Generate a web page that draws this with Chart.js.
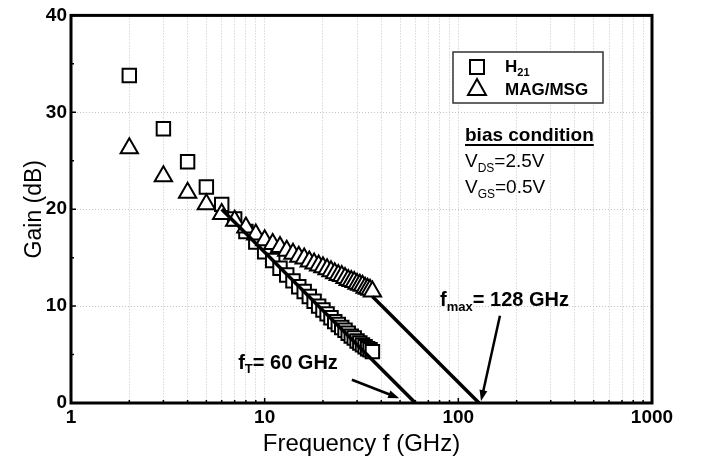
<!DOCTYPE html>
<html>
<head>
<meta charset="utf-8">
<script src="https://cdn.jsdelivr.net/npm/chart.js@4/dist/chart.umd.min.js"></script>
<style>
  html, body { margin: 0; padding: 0; background: #fff; }
</style>
</head>
<body>
<canvas id="gain" width="701" height="466"></canvas>
<script>
// measured data (GHz / dB)
const freq = [2, 3, 4, 5, 6, 7, 8, 9, 10, 11, 12, 13, 14, 15, 16, 17, 18, 19, 20,
  21, 22, 23, 24, 25, 26, 27, 28, 29, 30, 31, 32, 33, 34, 35, 36];
const h21 = [33.8, 28.3, 24.9, 22.3, 20.5, 19.0, 17.7, 16.6, 15.6, 14.7, 13.9, 13.2, 12.6, 12.0,
  11.5, 11.0, 10.5, 10.0, 9.6, 9.2, 8.8, 8.4, 8.1, 7.8, 7.5, 7.2, 6.9, 6.7, 6.4, 6.2,
  6.0, 5.8, 5.6, 5.5, 5.3];
const magMsg = [26.3, 23.4, 21.7, 20.5, 19.5, 18.8, 18.1, 17.4, 16.8, 16.4, 16.1, 15.7, 15.4, 15.1,
  14.9, 14.6, 14.4, 14.2, 14.0, 13.8, 13.6, 13.4, 13.2, 13.1, 12.9, 12.7, 12.6, 12.5, 12.3,
  12.2, 12.1, 11.9, 11.8, 11.7, 11.5];

// -20 dB/dec extrapolations
const ftLineF = [6, 60];
const ftLineG = [20.0, 0];
const fmaxLineF = [36, 128];
const fmaxLineG = [11.0, 0];

// axes
const xTickLabels = [1, 10, 100, 1000];
const yTicks = [0, 10, 20, 30, 40];

const FONT = '"Liberation Sans", Arial, Helvetica, sans-serif';

// log grid: 1..9 in every decade
const xGrid = [];
for (let d = 1; d < 1000; d *= 10) {
  for (let m = 1; m < 10; m++) xGrid.push(m * d);
}
xGrid.push(1000);

const pts = (xs, ys) => xs.map((x, i) => ({ x: x, y: ys[i] }));

function arrow(ctx, x1, y1, x2, y2) {
  const a = Math.atan2(y2 - y1, x2 - x1);
  const len = 11, w = 4;
  ctx.beginPath();
  ctx.moveTo(x1, y1);
  ctx.lineTo(x2 - Math.cos(a) * len * 0.8, y2 - Math.sin(a) * len * 0.8);
  ctx.lineWidth = 2.5;
  ctx.stroke();
  ctx.beginPath();
  ctx.moveTo(x2, y2);
  ctx.lineTo(x2 - Math.cos(a) * len - Math.sin(a) * w, y2 - Math.sin(a) * len + Math.cos(a) * w);
  ctx.lineTo(x2 - Math.cos(a) * len + Math.sin(a) * w, y2 - Math.sin(a) * len - Math.cos(a) * w);
  ctx.closePath();
  ctx.fill();
}

// text with a subscript part: main, sub, rest
function subText(ctx, x, y, main, sub, rest, big, small, dy) {
  ctx.textBaseline = 'middle';
  ctx.textAlign = 'left';
  ctx.font = big;
  ctx.fillText(main, x, y);
  x += ctx.measureText(main).width;
  ctx.font = small;
  ctx.fillText(sub, x, y + dy);
  x += ctx.measureText(sub).width;
  ctx.font = big;
  ctx.fillText(rest, x, y);
}

const extras = {
  id: 'extras',
  afterDraw(chart) {
    const { ctx, chartArea: ca, scales: { x, y } } = chart;
    ctx.save();
    ctx.strokeStyle = '#000';
    ctx.fillStyle = '#000';

    // inward ticks
    ctx.lineWidth = 1.5;
    ctx.beginPath();
    xGrid.forEach(v => {
      const px = x.getPixelForValue(v);
      const l = xTickLabels.includes(v) ? 5 : 3;
      ctx.moveTo(px, ca.bottom);
      ctx.lineTo(px, ca.bottom - l);
    });
    for (let v = 0; v <= 40; v += 5) {
      const py = y.getPixelForValue(v);
      const l = v % 10 === 0 ? 5 : 3;
      ctx.moveTo(ca.left, py);
      ctx.lineTo(ca.left + l, py);
    }
    ctx.stroke();

    // frame
    ctx.lineWidth = 3;
    ctx.strokeRect(ca.left, ca.top, ca.right - ca.left, ca.bottom - ca.top);

    // arrows
    arrow(ctx, x.getPixelForValue(28.2), y.getPixelForValue(2.4),
      x.getPixelForValue(49.5), y.getPixelForValue(0.5));
    arrow(ctx, x.getPixelForValue(164), y.getPixelForValue(9.0),
      x.getPixelForValue(131), y.getPixelForValue(0.2));

    // labels
    subText(ctx, x.getPixelForValue(7.3), y.getPixelForValue(4.1), 'f', 'T', '= 60 GHz',
      'bold 20px ' + FONT, 'bold 13px ' + FONT, 6);
    subText(ctx, x.getPixelForValue(80.5), y.getPixelForValue(10.6), 'f', 'max', '= 128 GHz',
      'bold 20px ' + FONT, 'bold 13px ' + FONT, 7);

    // legend box
    ctx.fillStyle = '#fff';
    ctx.fillRect(453, 52, 150, 51);
    ctx.lineWidth = 1.5;
    ctx.strokeStyle = '#333';
    ctx.strokeRect(453, 52, 150, 51);
    ctx.strokeStyle = '#000';
    ctx.lineWidth = 2;
    ctx.fillStyle = '#fff';
    ctx.fillRect(470, 60, 14, 14);
    ctx.strokeRect(470, 60, 14, 14);
    ctx.beginPath();
    ctx.moveTo(477, 79);
    ctx.lineTo(486, 95);
    ctx.lineTo(468, 95);
    ctx.closePath();
    ctx.fill();
    ctx.stroke();
    ctx.fillStyle = '#000';
    subText(ctx, 505, 67, 'H', '21', '', 'bold 17px ' + FONT, 'bold 11px ' + FONT, 6);
    ctx.font = 'bold 17px ' + FONT;
    ctx.fillText('MAG/MSG', 505, 90);

    // bias condition
    ctx.font = 'bold 19px ' + FONT;
    ctx.fillText('bias condition', 465, 136);
    const bw = ctx.measureText('bias condition').width;
    ctx.lineWidth = 1.8;
    ctx.beginPath();
    ctx.moveTo(465, 145);
    ctx.lineTo(465 + bw, 145);
    ctx.stroke();
    subText(ctx, 465, 162, 'V', 'DS', '=2.5V', '19px ' + FONT, '12px ' + FONT, 7);
    subText(ctx, 465, 188, 'V', 'GS', '=0.5V', '19px ' + FONT, '12px ' + FONT, 7);

    ctx.restore();
  }
};

new Chart(document.getElementById('gain'), {
  type: 'scatter',
  data: {
    datasets: [{
      label: 'fT fit',
      data: pts(ftLineF, ftLineG),
      showLine: true,
      borderColor: '#000',
      borderWidth: 3.5,
      pointRadius: 0,
      order: 0
    }, {
      label: 'fmax fit',
      data: pts(fmaxLineF, fmaxLineG),
      showLine: true,
      borderColor: '#000',
      borderWidth: 3.5,
      pointRadius: 0,
      order: 0
    }, {
      label: 'MAG/MSG',
      data: pts(freq, magMsg),
      pointStyle: 'triangle',
      pointRadius: 10,
      borderWidth: 2,
      borderColor: '#000',
      backgroundColor: '#fff',
      order: 1
    }, {
      label: 'H21',
      data: pts(freq, h21),
      pointStyle: 'rect',
      pointRadius: 9.5,
      borderWidth: 2,
      borderColor: '#000',
      backgroundColor: '#fff',
      order: 2
    }]
  },
  options: {
    responsive: false,
    animation: false,
    devicePixelRatio: 1,
    layout: { padding: { left: 0, top: 13, right: 49, bottom: 0 } },
    plugins: {
      legend: { display: false },
      tooltip: { enabled: false }
    },
    scales: {
      x: {
        type: 'logarithmic',
        min: 1,
        max: 1000,
        afterBuildTicks: s => { s.ticks = xGrid.map(v => ({ value: v })); },
        afterFit: s => { s.height = 63; },
        ticks: {
          autoSkip: false,
          maxRotation: 0,
          padding: 3,
          color: '#000',
          font: { family: FONT, size: 19, weight: 'bold' },
          callback: v => xTickLabels.includes(v) ? String(v) : ''
        },
        grid: { color: '#c4c4c4', lineWidth: 1, drawTicks: false },
        border: { display: false, dash: [1, 2] },
        title: {
          display: true,
          text: 'Frequency f (GHz)',
          color: '#000',
          font: { family: FONT, size: 24 },
          padding: { top: 0, bottom: 7 }
        }
      },
      y: {
        min: 0,
        max: 40,
        afterBuildTicks: s => { s.ticks = yTicks.map(v => ({ value: v })); },
        afterFit: s => { s.width = 71; },
        ticks: {
          padding: 4,
          color: '#000',
          font: { family: FONT, size: 19, weight: 'bold' }
        },
        grid: { color: '#c4c4c4', lineWidth: 1, drawTicks: false },
        border: { display: false, dash: [1, 2] },
        title: {
          display: true,
          text: 'Gain (dB)',
          color: '#000',
          font: { family: FONT, size: 23 },
          padding: { top: 21, bottom: 0 }
        }
      }
    }
  },
  plugins: [extras]
});
</script>
</body>
</html>
